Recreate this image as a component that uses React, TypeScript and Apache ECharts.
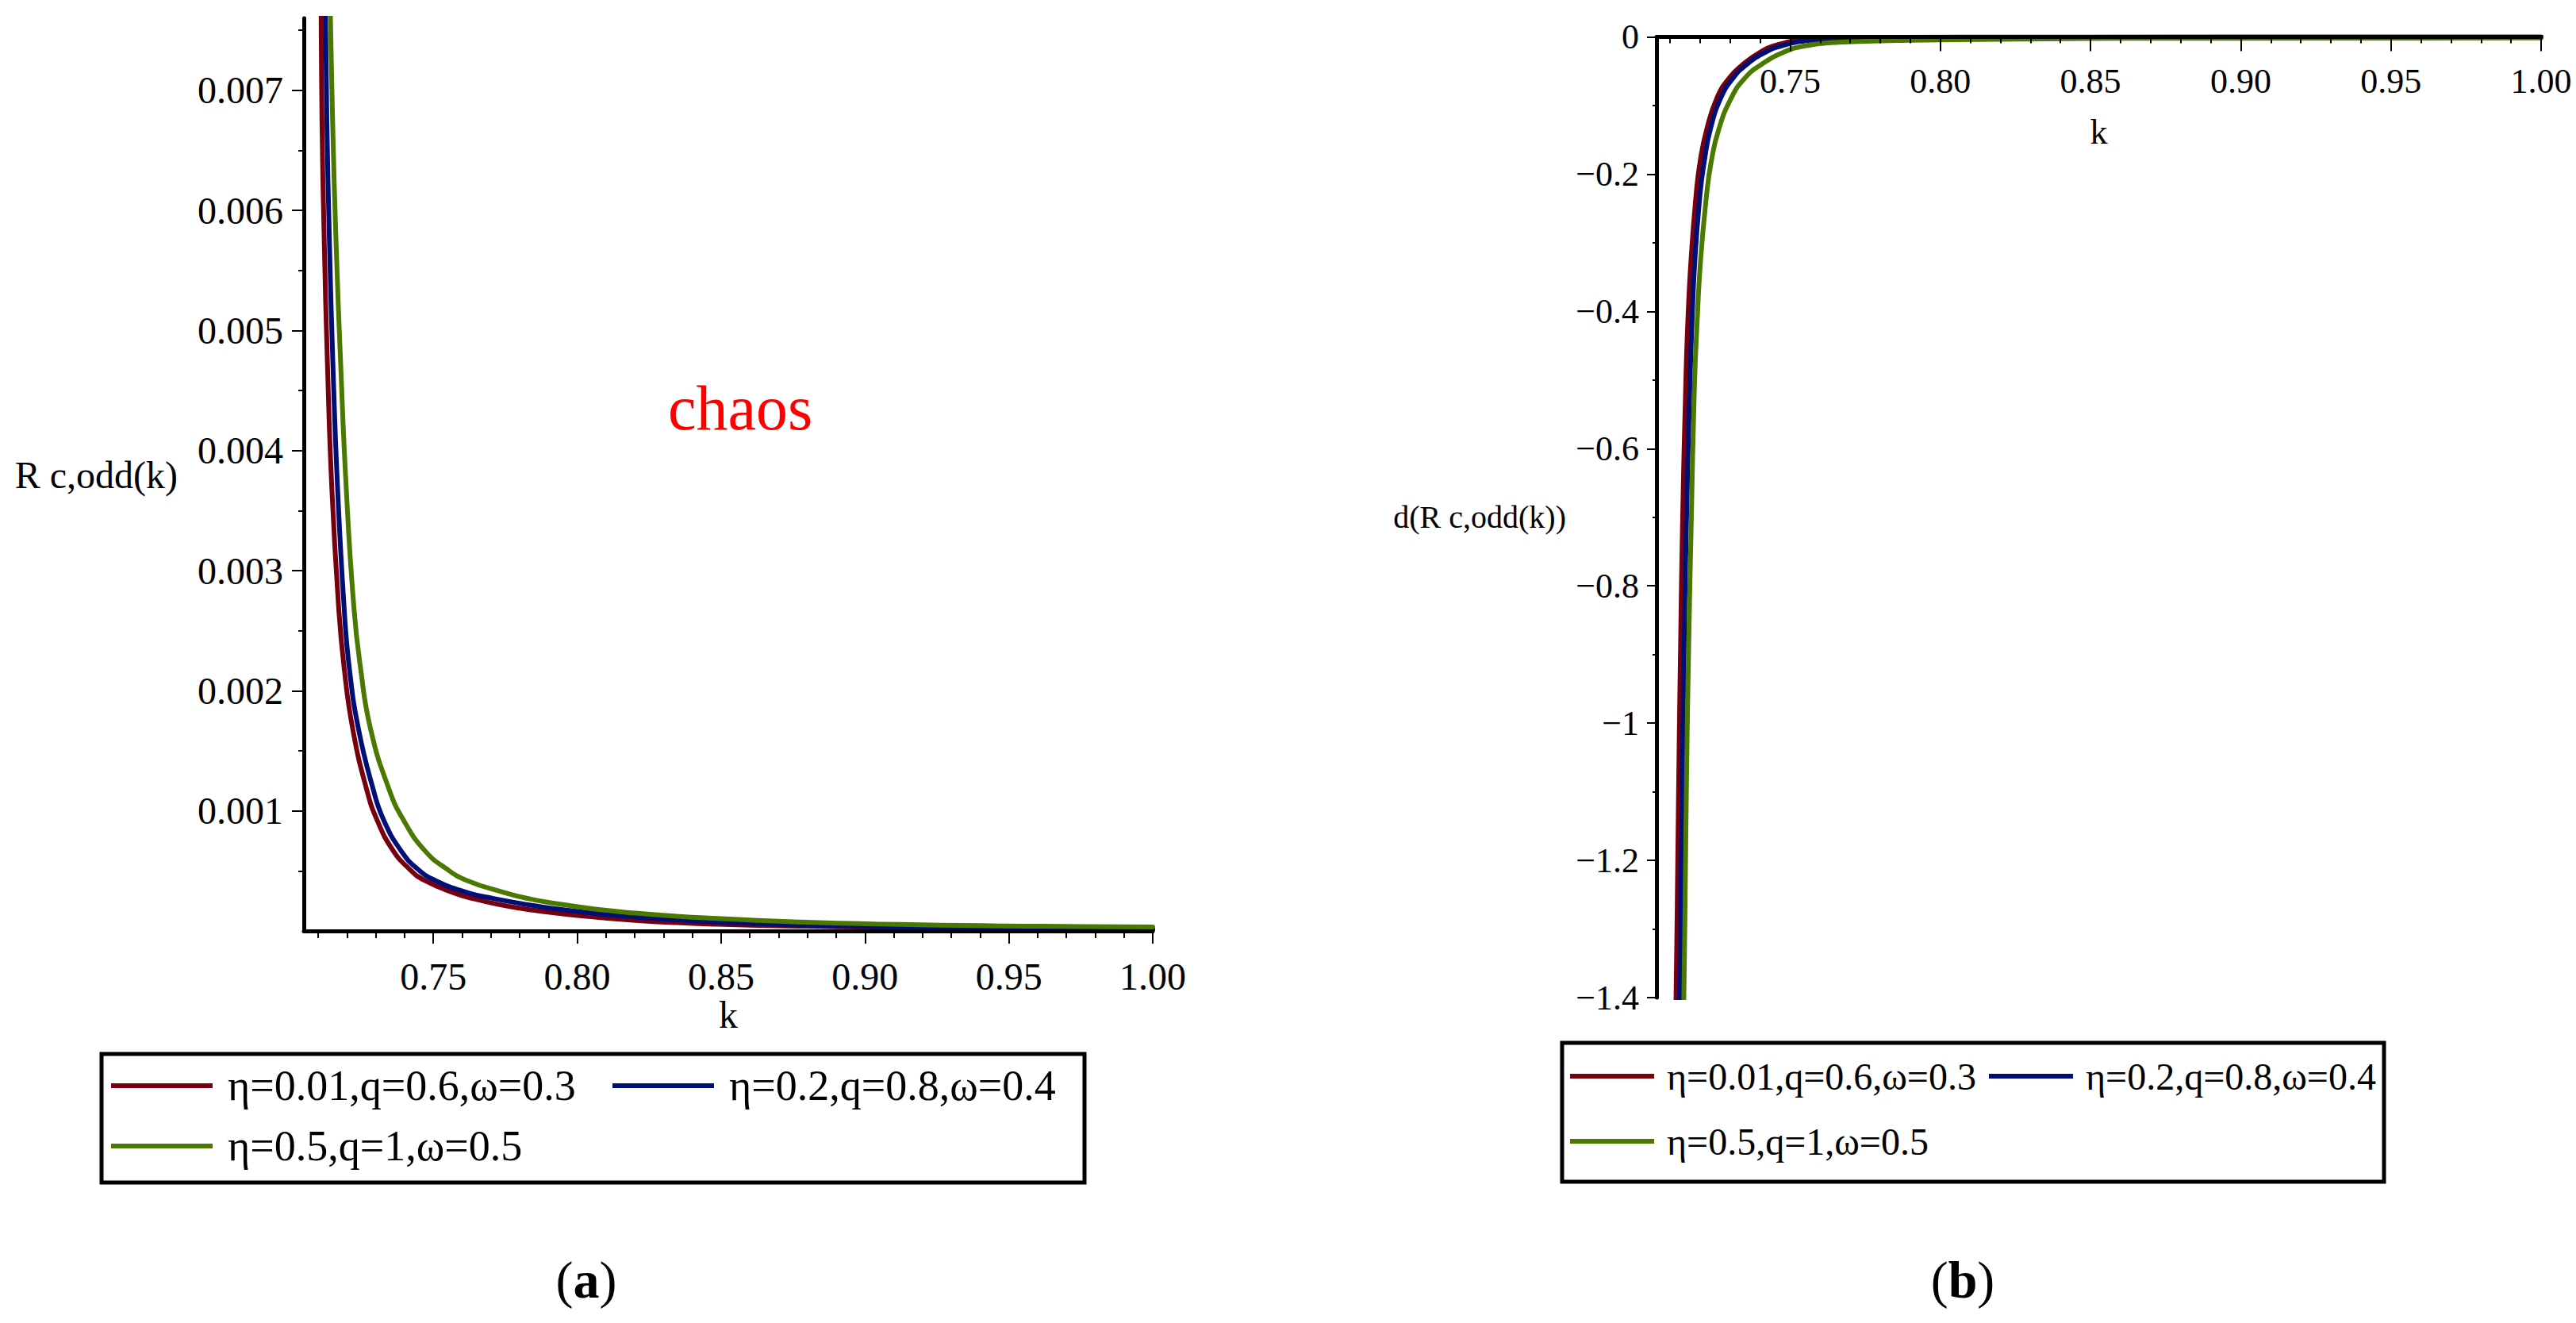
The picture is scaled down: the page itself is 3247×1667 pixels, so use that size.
import React, { useEffect, useRef } from 'react';
import * as echarts from 'echarts';

const SERIES_NAMES = ['η=0.01,q=0.6,ω=0.3', 'η=0.2,q=0.8,ω=0.4', 'η=0.5,q=1,ω=0.5'];
const SERIES_COLORS = ['#78000E', '#000E78', '#4A7800'];

// Panel (a): R c,odd(k)
const A_RED_K = [0.7108, 0.711, 0.7113, 0.7121, 0.7132, 0.7147, 0.7171, 0.719, 0.722, 0.7268, 0.7305, 0.736, 0.7415, 0.747, 0.758, 0.7654, 0.7773, 0.7921, 0.8062, 0.8203, 0.8344, 0.8486, 0.8627, 0.8768, 0.905, 0.9333, 0.9615, 1.0];
const A_RED_V = [0.008, 0.00765, 0.00674, 0.00573, 0.00472, 0.0037, 0.00269, 0.00219, 0.00168, 0.00118, 0.00092, 0.00067, 0.00052, 0.00042, 0.00031, 0.00026, 0.0002, 0.00015, 0.000115, 0.000088, 0.000069, 0.000056, 0.000047, 0.00004, 0.000031, 0.000024, 0.000019, 0.000013];
const A_BLUE_K = [0.712, 0.7125, 0.713, 0.7139, 0.7151, 0.7167, 0.719, 0.7208, 0.724, 0.7291, 0.7328, 0.7387, 0.7443, 0.7507, 0.7617, 0.7709, 0.7838, 0.7921, 0.8062, 0.8203, 0.8344, 0.8486, 0.8627, 0.8768, 0.8909, 0.905, 0.9333, 0.9615, 1.0];
const A_BLUE_V = [0.008, 0.00765, 0.00674, 0.00573, 0.00472, 0.0037, 0.00269, 0.00219, 0.00168, 0.00118, 0.00092, 0.00067, 0.00052, 0.00042, 0.00032, 0.00027, 0.000215, 0.000185, 0.000146, 0.000116, 0.000093, 0.000075, 0.000061, 0.00005, 0.000042, 0.000035, 0.000026, 0.00002, 0.000014];
const A_GREEN_K = [0.7138, 0.7142, 0.715, 0.7162, 0.7178, 0.7197, 0.7224, 0.7247, 0.7282, 0.7346, 0.7397, 0.747, 0.7544, 0.7617, 0.7746, 0.7838, 0.7921, 0.8062, 0.8203, 0.8344, 0.8486, 0.8627, 0.8768, 0.8909, 0.905, 0.9191, 0.9333, 0.9474, 0.9615, 0.9756, 1.0];
const A_GREEN_V = [0.008, 0.00765, 0.00674, 0.00573, 0.00472, 0.0037, 0.00269, 0.00219, 0.00168, 0.00118, 0.00092, 0.00067, 0.00052, 0.00042, 0.00032, 0.000265, 0.00023, 0.000182, 0.000148, 0.000123, 0.000104, 0.000088, 0.000075, 0.000065, 0.000057, 0.000051, 0.000046, 0.000042, 0.000039, 0.000036, 0.000033];

// Panel (b): d(R c,odd(k))
const B_RED_K = [0.7117, 0.712, 0.7124, 0.7129, 0.7135, 0.7142, 0.7152, 0.7159, 0.717, 0.7187, 0.72, 0.7222, 0.7257, 0.7297, 0.734, 0.7401, 0.7454, 0.7532, 0.765, 0.78, 0.8, 0.9, 1.0];
const B_RED_V = [-1.5, -1.4, -1.268, -1.079, -0.89, -0.701, -0.513, -0.418, -0.324, -0.229, -0.182, -0.135, -0.088, -0.06, -0.041, -0.022, -0.012, -0.005, -0.0025, -0.001, -0.0004, -0.0001, 0];
const B_BLUE_K = [0.7129, 0.7132, 0.7136, 0.7141, 0.7147, 0.7155, 0.7166, 0.7173, 0.7183, 0.72, 0.7214, 0.7234, 0.727, 0.731, 0.7353, 0.7419, 0.748, 0.7567, 0.77, 0.785, 0.81, 0.9, 1.0];
const B_BLUE_V = [-1.5, -1.4, -1.268, -1.079, -0.89, -0.701, -0.513, -0.418, -0.324, -0.229, -0.182, -0.135, -0.088, -0.06, -0.041, -0.022, -0.012, -0.005, -0.002, -0.001, -0.0004, -0.0001, 0];
const B_GREEN_K = [0.7143, 0.7146, 0.715, 0.7155, 0.7162, 0.7171, 0.7181, 0.719, 0.7202, 0.7222, 0.7237, 0.7262, 0.7305, 0.7349, 0.7401, 0.748, 0.755, 0.7637, 0.775, 0.79, 0.82, 0.86, 1.0];
const B_GREEN_V = [-1.5, -1.4, -1.268, -1.079, -0.89, -0.701, -0.513, -0.418, -0.324, -0.229, -0.182, -0.135, -0.088, -0.06, -0.041, -0.022, -0.013, -0.0085, -0.0065, -0.005, -0.0035, -0.002, -0.0015];

// Axis ticks
const A_X_MAJOR = [0.75, 0.8, 0.85, 0.9, 0.95, 1.0];
const A_X_MINOR = [0.71, 0.72, 0.73, 0.74, 0.76, 0.77, 0.78, 0.79, 0.81, 0.82, 0.83, 0.84, 0.86, 0.87, 0.88, 0.89, 0.91, 0.92, 0.93, 0.94, 0.96, 0.97, 0.98, 0.99];
const A_Y_MAJOR = [0.001, 0.002, 0.003, 0.004, 0.005, 0.006, 0.007];
const A_Y_MINOR = [0.0005, 0.0015, 0.0025, 0.0035, 0.0045, 0.0055, 0.0065, 0.0075];
const B_X_MAJOR = [0.75, 0.8, 0.85, 0.9, 0.95, 1.0];
const B_X_MINOR = A_X_MINOR;
const B_Y_MAJOR = [0, -0.2, -0.4, -0.6, -0.8, -1, -1.2, -1.4];
const B_Y_MINOR = [-0.1, -0.3, -0.5, -0.7, -0.9, -1.1, -1.3];

const FONT = 'Liberation Serif';

const zip = (k: number[], v: number[]) => k.map((x, i) => [x, v[i]]);

function buildOption() {
  const lineSeries = (name: string, color: string, data: number[][], xi: number, yi: number) => ({
    type: 'line',
    name,
    xAxisIndex: xi,
    yAxisIndex: yi,
    data,
    showSymbol: false,
    symbol: 'none',
    smooth: 0.5,
    clip: true,
    color,
    itemStyle: { color },
    lineStyle: { color, width: 6, join: 'round', cap: 'round' },
    z: 2,
  });

  const majorX = (grid: number, min: number, pos: string, inside: boolean, major: number[], len: number, fs: number, margin: number, nameGap: number) => ({
    type: 'value',
    gridIndex: grid,
    min,
    max: 1.0,
    position: pos,
    z: 5,
    axisLine: { show: true, onZero: false, lineStyle: { color: '#000', width: 5 } },
    axisTick: { show: true, inside, customValues: major, length: len, lineStyle: { color: '#000', width: 2 } },
    axisLabel: {
      show: true,
      inside,
      customValues: major,
      margin,
      fontSize: fs,
      fontFamily: FONT,
      color: '#000',
      formatter: (v: number) => v.toFixed(2),
    },
    splitLine: { show: false },
    name: 'k',
    nameLocation: 'middle',
    nameGap,
    nameMoveOverlap: false,
    nameTextStyle: { fontSize: fs, fontFamily: FONT, color: '#000' },
  });
  const minorX = (grid: number, min: number, pos: string, inside: boolean, minor: number[], len: number) => ({
    type: 'value',
    gridIndex: grid,
    min,
    max: 1.0,
    position: pos,
    z: 5,
    axisLine: { show: false, onZero: false },
    axisTick: { show: true, inside, customValues: minor, length: len, lineStyle: { color: '#000', width: 2 } },
    axisLabel: { show: false },
    splitLine: { show: false },
  });

  const legendItem = (name: string, left: number, top: number, iw: number, fs: number, lh: number, pad: number) => ({
    show: true,
    data: [{ name }],
    left,
    top,
    orient: 'horizontal',
    padding: 0,
    itemGap: 0,
    icon: 'rect',
    itemWidth: iw,
    itemHeight: 6,
    selectedMode: false,
    textStyle: { fontSize: fs, fontFamily: FONT, color: '#000', lineHeight: lh, padding: [0, 0, 0, pad] },
  });

  return {
    animation: false,
    backgroundColor: '#ffffff',
    textStyle: { fontFamily: FONT },
    grid: [
      { left: 383, top: 23, width: 1070, height: 1150, containLabel: false, outerBoundsMode: 'none' },
      { left: 2088, top: 46.5, width: 1115, height: 1210.5, containLabel: false, outerBoundsMode: 'none' },
    ],
    xAxis: [
      majorX(0, 0.705, 'bottom', false, A_X_MAJOR, 16, 48, 33, 81),
      minorX(0, 0.705, 'bottom', false, A_X_MINOR, 9),
      majorX(1, 0.7055, 'top', true, B_X_MAJOR, 18, 44, 34, -142),
      minorX(1, 0.7055, 'top', true, B_X_MINOR, 8),
    ],
    yAxis: [
      {
        type: 'value',
        gridIndex: 0,
        min: 0,
        max: 0.0076,
        position: 'left',
        z: 5,
        axisLine: { show: true, onZero: false, lineStyle: { color: '#000', width: 5 } },
        axisTick: { show: true, customValues: A_Y_MAJOR, length: 15, lineStyle: { color: '#000', width: 2 } },
        axisLabel: {
          show: true,
          customValues: A_Y_MAJOR,
          margin: 26,
          fontSize: 48,
          fontFamily: FONT,
          color: '#000',
          formatter: (v: number) => v.toFixed(3),
        },
        splitLine: { show: false },
        name: 'R c,odd(k)',
        nameLocation: 'middle',
        nameRotate: 0,
        nameGap: 159,
        nameMoveOverlap: false,
        nameTextStyle: { fontSize: 48, fontFamily: FONT, color: '#000' },
      },
      {
        type: 'value',
        gridIndex: 0,
        min: 0,
        max: 0.0076,
        position: 'left',
        z: 5,
        axisLine: { show: false, onZero: false },
        axisTick: { show: true, customValues: A_Y_MINOR, length: 7, lineStyle: { color: '#000', width: 2 } },
        axisLabel: { show: false },
        splitLine: { show: false },
      },
      {
        type: 'value',
        gridIndex: 1,
        min: -1.4,
        max: 0,
        position: 'left',
        z: 5,
        axisLine: { show: true, onZero: false, lineStyle: { color: '#000', width: 5 } },
        axisTick: { show: true, customValues: B_Y_MAJOR, length: 12, lineStyle: { color: '#000', width: 2 } },
        axisLabel: {
          show: true,
          customValues: B_Y_MAJOR,
          margin: 22,
          fontSize: 44,
          fontFamily: FONT,
          color: '#000',
          formatter: (v: number) => (v === 0 ? '0' : '\u2212' + String(Math.abs(v))),
        },
        splitLine: { show: false },
        name: 'd(R c,odd(k))',
        nameLocation: 'middle',
        nameRotate: 0,
        nameGap: 114,
        nameMoveOverlap: false,
        nameTextStyle: { fontSize: 40, fontFamily: FONT, color: '#000' },
      },
      {
        type: 'value',
        gridIndex: 1,
        min: -1.4,
        max: 0,
        position: 'left',
        z: 5,
        axisLine: { show: false, onZero: false },
        axisTick: { show: true, customValues: B_Y_MINOR, length: 5, lineStyle: { color: '#000', width: 2 } },
        axisLabel: { show: false },
        splitLine: { show: false },
      },
    ],
    legend: [
      legendItem(SERIES_NAMES[0], 140, 1338, 128, 54, 60, 14),
      legendItem(SERIES_NAMES[1], 772, 1338, 128, 54, 60, 14),
      legendItem(SERIES_NAMES[2], 140, 1414, 128, 54, 60, 14),
      legendItem(SERIES_NAMES[0], 1979, 1328, 106, 48, 56, 11),
      legendItem(SERIES_NAMES[1], 2507, 1328, 106, 48, 56, 11),
      legendItem(SERIES_NAMES[2], 1979, 1410, 106, 48, 56, 11),
    ],
    series: [
      lineSeries(SERIES_NAMES[0], SERIES_COLORS[0], zip(A_RED_K, A_RED_V), 0, 0),
      lineSeries(SERIES_NAMES[1], SERIES_COLORS[1], zip(A_BLUE_K, A_BLUE_V), 0, 0),
      lineSeries(SERIES_NAMES[2], SERIES_COLORS[2], zip(A_GREEN_K, A_GREEN_V), 0, 0),
      lineSeries(SERIES_NAMES[0], SERIES_COLORS[0], zip(B_RED_K, B_RED_V), 2, 2),
      lineSeries(SERIES_NAMES[1], SERIES_COLORS[1], zip(B_BLUE_K, B_BLUE_V), 2, 2),
      lineSeries(SERIES_NAMES[2], SERIES_COLORS[2], zip(B_GREEN_K, B_GREEN_V), 2, 2),
    ],
    graphic: [
      {
        type: 'text',
        x: 842,
        y: 514,
        style: { text: 'chaos', fontSize: 80, fontFamily: FONT, fill: '#ff0000', align: 'left', verticalAlign: 'middle' },
      },
      {
        type: 'rect',
        shape: { x: 128, y: 1328, width: 1239, height: 162 },
        style: { fill: 'none', stroke: '#000', lineWidth: 5 },
      },
      {
        type: 'rect',
        shape: { x: 1969, y: 1314, width: 1036, height: 175 },
        style: { fill: 'none', stroke: '#000', lineWidth: 5 },
      },
      {
        type: 'text',
        x: 739,
        y: 1612,
        style: {
          text: '{p|(}{b|a}{p|)}',
          align: 'center',
          verticalAlign: 'middle',
          fill: '#000',
          rich: {
            p: { fontSize: 66, fontFamily: FONT, fill: '#000' },
            b: { fontSize: 66, fontFamily: FONT, fontWeight: 'bold', fill: '#000' },
          },
        },
      },
      {
        type: 'text',
        x: 2474,
        y: 1612,
        style: {
          text: '{p|(}{b|b}{p|)}',
          align: 'center',
          verticalAlign: 'middle',
          fill: '#000',
          rich: {
            p: { fontSize: 66, fontFamily: FONT, fill: '#000' },
            b: { fontSize: 66, fontFamily: FONT, fontWeight: 'bold', fill: '#000' },
          },
        },
      },
    ],
  };
}

export default function App() {
  const ref = useRef<HTMLDivElement>(null);
  useEffect(() => {
    if (!ref.current) return;
    const chart = echarts.init(ref.current, null, { renderer: 'svg' });
    chart.setOption(buildOption() as any);
    return () => chart.dispose();
  }, []);
  return (
    <div
      ref={ref}
      style={{ position: 'fixed', left: 0, top: 0, width: 3247, height: 1667, background: '#fff' }}
    />
  );
}
